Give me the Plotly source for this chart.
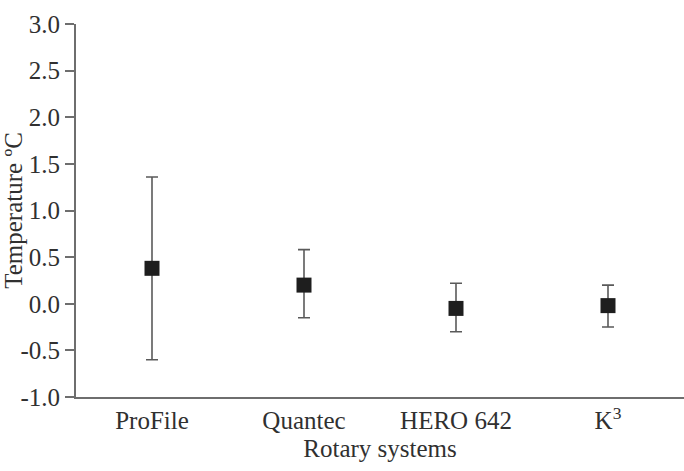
import plotly.graph_objects as go

systems = ["ProFile", "Quantec", "HERO 642", "K<sup>3</sup>"]
means = [0.38, 0.20, -0.05, -0.02]
upper = [1.36, 0.58, 0.22, 0.20]
lower = [-0.60, -0.15, -0.30, -0.25]
y_ticks = [-1.0, -0.5, 0.0, 0.5, 1.0, 1.5, 2.0, 2.5, 3.0]
y_tick_labels = ["-1.0", "-0.5", "0.0", "0.5", "1.0", "1.5", "2.0", "2.5", "3.0"]

err_plus = [u - m for u, m in zip(upper, means)]
err_minus = [m - l for m, l in zip(means, lower)]

fig = go.Figure()
fig.add_trace(go.Scatter(
    x=systems, y=means, mode="markers",
    marker=dict(symbol="square", size=15, color="#1e1e1e"),
    error_y=dict(type="data", symmetric=False, array=err_plus, arrayminus=err_minus,
                 color="#5a5a5a", thickness=1.6, width=6),
    showlegend=False,
))

fam = "Liberation Serif, Times New Roman, serif"
txt = "#303030"
fig.update_layout(
    width=684, height=471,
    margin=dict(l=76, r=0, t=24, b=74),
    paper_bgcolor="white", plot_bgcolor="white",
    font=dict(family=fam, size=24, color=txt),
    xaxis=dict(
        range=[-0.5, 3.5], showline=True, linecolor="#6e6e6e", linewidth=2,
        ticks="", showgrid=False, zeroline=False,
        tickfont=dict(family=fam, size=25, color=txt),
        title=dict(text="Rotary systems", standoff=6,
                   font=dict(family=fam, size=25, color=txt)),
    ),
    yaxis=dict(
        range=[-1.0, 3.0], tickvals=y_ticks, ticktext=y_tick_labels,
        showline=True, linecolor="#6e6e6e", linewidth=2,
        ticks="outside", ticklen=9, tickcolor="#6e6e6e", tickwidth=2,
        showgrid=False, zeroline=False,
        tickfont=dict(family=fam, size=25, color=txt),
        title=dict(text="Temperature ºC", standoff=0,
                   font=dict(family=fam, size=25, color=txt)),
    ),
)

fig.write_html("out.html")
